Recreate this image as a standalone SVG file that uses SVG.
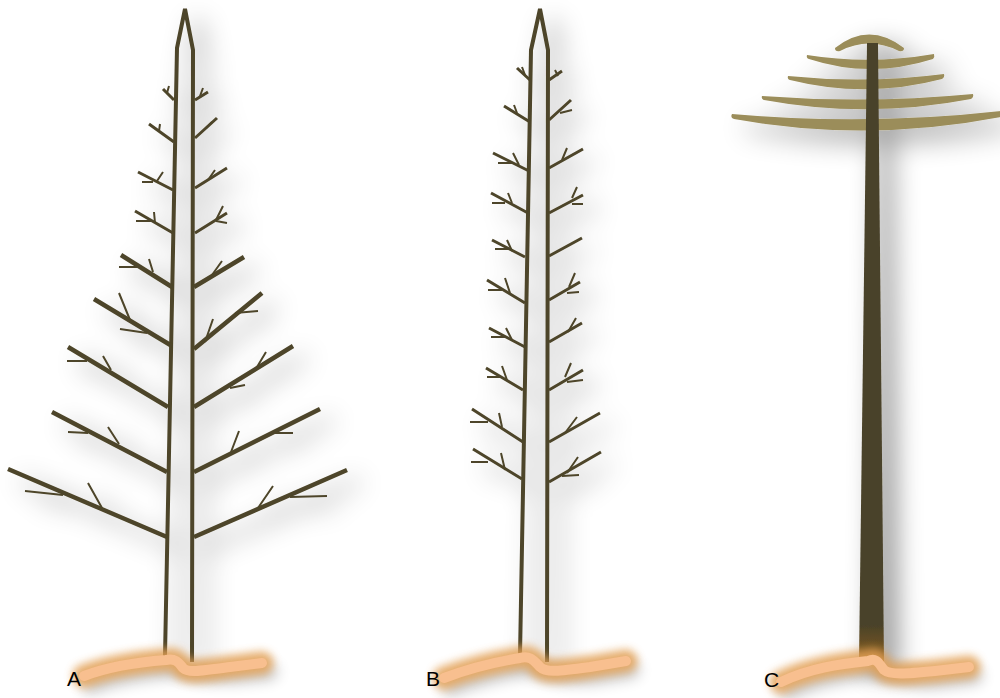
<svg xmlns="http://www.w3.org/2000/svg" width="1000" height="698" viewBox="0 0 1000 698">
  <defs>
    <filter id="shadow" x="-30%" y="-30%" width="160%" height="160%">
      <feGaussianBlur in="SourceAlpha" stdDeviation="13" result="b"/>
      <feOffset in="b" dx="13" dy="11" result="o"/>
      <feFlood flood-color="#000" flood-opacity="0.45"/>
      <feComposite in2="o" operator="in" result="s"/>
      <feMerge><feMergeNode in="s"/><feMergeNode in="SourceGraphic"/></feMerge>
    </filter>
    <filter id="glow" x="-20%" y="-150%" width="140%" height="400%">
      <feGaussianBlur stdDeviation="4.5"/>
    </filter>
    <filter id="gshadow" x="-20%" y="-150%" width="140%" height="400%">
      <feGaussianBlur stdDeviation="7"/>
    </filter>
    <linearGradient id="trunkC" gradientUnits="userSpaceOnUse" x1="0" y1="625" x2="0" y2="664">
      <stop offset="0" stop-color="#4a4229"/>
      <stop offset="1" stop-color="#8a5f1e"/>
    </linearGradient>
    <style>
      .stem{fill:none;stroke:#4d4529;stroke-width:4;stroke-linejoin:miter}
      .br{fill:none;stroke:#4d4529;stroke-width:4.5;stroke-linecap:butt}
      .bs{fill:none;stroke:#4d4529;stroke-width:3;stroke-linecap:butt}
      .tw{fill:none;stroke:#4d4529;stroke-width:2}
      .arc{fill:#9b8d5a}
      .gs{fill:none;stroke:#000;stroke-width:16;stroke-linecap:round;opacity:0.22}
      .gl{fill:none;stroke:#e3a055;stroke-width:23;stroke-linecap:round;stroke-linejoin:round;opacity:0.85}
      .gc{fill:none;stroke:#f8bf8f;stroke-width:10;stroke-linecap:round;stroke-linejoin:round}
      .lbl{font-family:"Liberation Sans",Arial,sans-serif;font-size:21px;fill:#000}
    </style>
  </defs>
  <rect width="1000" height="698" fill="#fff"/>

  <!-- Tree A: conical crown -->
  <g id="treeA" filter="url(#shadow)">
    <path class="stem" d="M165,656 L177,48 L185,9 L193,50 L192,662"/>
    <!-- upper small branches -->
    <path class="bs" d="M174,100 L163,89 M195,100 L208,92 M174,142 L149,124 M195,138 L217,118 M173,190 L138,172 M195,188 L227,168 M173,233 L135,211 M195,233 L227,213"/>
    <path class="tw" d="M167,93 L169,86 M200,96 L203,88 M159,131 L160,124 M206,128 L212,122 M153,182 L142,182 M157,181 L163,172 M208,180 L215,170 M151,221 L136,221 M155,223 L154,212 M216,220 L223,206 M216,221 L227,223"/>
    <!-- lower long branches -->
    <path class="br" d="M172,287 L121,255 M194,287 L244,257 M172,346 L94,299 M194,349 L262,293 M168,407 L68,347 M194,407 L293,346 M167,472 L52,412 M194,472 L320,409 M167,537 L8,469 M194,537 L347,470"/>
    <path class="tw" d="M119,267 L138,267 M149,259 L153,272 M222,261 L212,275 M119,293 L130,320 M120,329 L147,333 M258,311 L235,313 M213,319 L205,342 M67,361 L87,361 M103,356 L111,370 M266,352 L257,367 M245,385 L230,388 M68,432 L88,433 M108,427 L119,444 M293,433 L273,433 M239,431 L231,452 M25,491 L63,495 M88,483 L102,508 M327,496 L290,497 M273,486 L258,508"/>
  </g>

  <!-- Tree B: narrow columnar crown -->
  <g id="treeB" filter="url(#shadow)">
    <path class="stem" d="M520,656 L531,50 L540,9 L548,50 L547,662"/>
    <path class="bs" d="M530,80 L517,68 M549,80 L562,71 M530,122 L504,106 M549,120 L571,100 M529,171 L493,153 M549,168 L583,149 M528,213 L491,193 M549,213 L583,195 M525,257 L492,240 M549,256 L582,238 M525,303 L487,280 M549,300 L580,282 M525,347 L489,328 M549,342 L582,323 M523,390 L486,368 M549,390 L583,370 M523,442 L472,409 M549,442 L600,413 M522,479 L473,449 M549,482 L601,452"/>
    <path class="tw" d="M522,67 L525,75 M555,70 L558,76 M514,105 L517,113 M572,110 L560,113 M498,163 L513,163 M513,153 L519,165 M567,148 L562,160 M492,203 L505,203 M508,193 L512,203 M577,187 L572,198 M583,204 L572,204 M495,249 L510,249 M507,240 L512,251 M488,290 L502,290 M505,278 L510,293 M579,292 L567,293 M575,273 L569,287 M491,337 L505,337 M506,328 L512,340 M576,318 L568,332 M487,377 L500,377 M502,366 L507,380 M571,363 L565,377 M583,380 L567,382 M470,422 L488,422 M499,413 L502,427 M577,417 L565,433 M471,462 L488,462 M501,453 L505,470 M578,457 L567,473 M579,475 L562,476"/>
  </g>

  <!-- Tree C: umbrella crown on a bare trunk -->
  <g id="treeC" filter="url(#shadow)">
    <path class="arc" d="M835,48 Q869,21 904,48 Q904,52 899,51 Q869,36 840,51 Q835,52 835,48 Z"/>
    <path class="arc" d="M807,55 Q870,65 934,54 Q935,57 933,59 Q870,79 809,59 Q806,58 807,55 Z"/>
    <path class="arc" d="M788,76 Q866,84 944,74 Q945,77 942,79 Q866,99 790,80 Q787,79 788,76 Z"/>
    <path class="arc" d="M762,96 Q867,104 973,94 Q974,97 971,99 Q867,119 764,100 Q761,99 762,96 Z"/>
    <path class="arc" d="M732,114 Q866,126 1001,111 L1001,117 Q866,143 734,119 Q730,118 732,114 Z"/>
    <path d="M867,43 L878,43 L884,662 L859,662 Z" fill="url(#trunkC)"/>
  </g>

  <!-- ground strips -->
  <g id="groundA">
    <path class="gs" filter="url(#gshadow)" d="M90,686 C115,676 145,672 170,670 C180,668 190,678 240,675 L270,672"/>
    <path class="gl" filter="url(#glow)" d="M84,676 C110,666 140,662 166,660 C176,658 179,663 183,668 C188,673 200,671 230,667 L262,663"/>
    <path class="gc" d="M84,676 C110,666 140,662 166,660 C176,658 179,663 183,668 C188,673 200,671 230,667 L262,663"/>
    <text class="lbl" x="67" y="686">A</text>
  </g>
  <g id="groundB">
    <path class="gs" filter="url(#gshadow)" d="M450,688 C475,678 500,672 525,668 C535,666 550,680 595,676 L632,670"/>
    <path class="gl" filter="url(#glow)" d="M444,678 C470,668 495,662 520,658 C531,655 535,662 540,667 C546,673 560,671 590,667 L626,661"/>
    <path class="gc" d="M444,678 C470,668 495,662 520,658 C531,655 535,662 540,667 C546,673 560,671 590,667 L626,661"/>
    <text class="lbl" x="426" y="686">B</text>
  </g>
  <g id="groundC">
    <path class="gs" filter="url(#gshadow)" d="M787,692 C815,678 845,674 873,671 C885,669 900,684 940,680 L975,676"/>
    <path class="gl" filter="url(#glow)" d="M781,682 C810,668 840,664 868,661 C877,657 879,664 884,670 C890,675 905,674 935,671 L969,667"/>
    <path class="gc" d="M781,682 C810,668 840,664 868,661 C877,657 879,664 884,670 C890,675 905,674 935,671 L969,667"/>
    <text class="lbl" x="764" y="687">C</text>
  </g>
</svg>
